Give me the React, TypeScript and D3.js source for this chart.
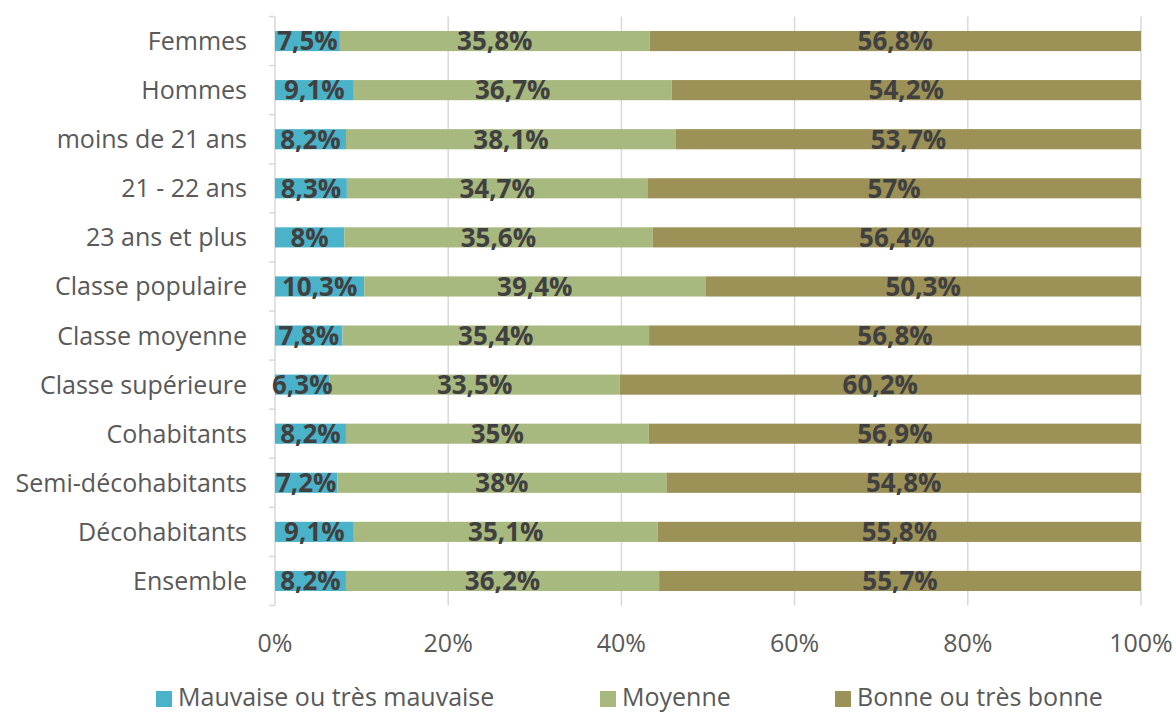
import React from "react";
import * as d3 from "d3";

const categories = [
  "Femmes",
  "Hommes",
  "moins de 21 ans",
  "21 - 22 ans",
  "23 ans et plus",
  "Classe populaire",
  "Classe moyenne",
  "Classe supérieure",
  "Cohabitants",
  "Semi-décohabitants",
  "Décohabitants",
  "Ensemble",
];
const mauvaise = [7.5, 9.1, 8.2, 8.3, 8, 10.3, 7.8, 6.3, 8.2, 7.2, 9.1, 8.2];
const moyenne = [35.8, 36.7, 38.1, 34.7, 35.6, 39.4, 35.4, 33.5, 35, 38, 35.1, 36.2];
const bonne = [56.8, 54.2, 53.7, 57, 56.4, 50.3, 56.8, 60.2, 56.9, 54.8, 55.8, 55.7];
const seriesNames = ["Mauvaise ou très mauvaise", "Moyenne", "Bonne ou très bonne"];
const seriesColors = ["#4bb3c9", "#a8b97f", "#9c9157"];
const xTicks = [0, 0.2, 0.4, 0.6, 0.8, 1];

const W = 1176;
const H = 714;
const left = 275;
const right = 1141;
const top = 16.5;
const bottom = 605.5;
const FONT = "'Open Sans', sans-serif";

export default function App() {
  const rows = categories.map((c, i) => ({ cat: c, s0: mauvaise[i], s1: moyenne[i], s2: bonne[i] }));
  const stack = d3.stack<any>().keys(["s0", "s1", "s2"]).offset(d3.stackOffsetExpand);
  const stacked = stack(rows);
  const raw = [mauvaise, moyenne, bonne];
  const x = d3.scaleLinear().domain([0, 1]).range([left, right]);
  const y = d3.scaleBand().domain(categories).range([top, bottom]).paddingInner(0.59).paddingOuter(0.295);
  const step = y.step();
  const fmt = (v: number) => String(v).replace(".", ",") + "%";
  const legendX = [156, 600, 835];

  return (
    <svg width={W} height={H} style={{ position: "absolute", left: 0, top: 0, background: "#fff" }}>
      <rect x={0} y={0} width={W} height={H} fill="#fff" />
      {xTicks.slice(1).map((t) => (
        <line key={t} x1={x(t)} x2={x(t)} y1={top} y2={bottom} stroke="#d9d9d9" strokeWidth={1.5} />
      ))}
      <line x1={left} x2={left} y1={top} y2={bottom} stroke="#d9d9d9" strokeWidth={1.5} />
      {d3.range(categories.length + 1).map((i) => (
        <line key={i} x1={left - 6} x2={left} y1={top + i * step} y2={top + i * step} stroke="#d9d9d9" strokeWidth={1.5} />
      ))}
      {stacked.map((s, si) =>
        s.map((d, i) => (
          <rect
            key={si + "-" + i}
            x={x(d[0])}
            y={y(categories[i])!}
            width={x(d[1]) - x(d[0])}
            height={y.bandwidth()}
            fill={seriesColors[si]}
          />
        ))
      )}
      {stacked.map((s, si) =>
        s.map((d, i) => (
          <text
            key={"l" + si + "-" + i}
            x={(x(d[0]) + x(d[1])) / 2}
            y={y(categories[i])! + y.bandwidth() / 2}
            dy="0.36em"
            textAnchor="middle"
            fontFamily={FONT}
            fontWeight="bold"
            fontSize={26}
            fill="#404040"
          >
            {fmt(raw[si][i])}
          </text>
        ))
      )}
      {categories.map((c) => (
        <text
          key={c}
          x={247}
          y={y(c)! + y.bandwidth() / 2}
          dy="0.36em"
          textAnchor="end"
          fontFamily={FONT}
          fontSize={25}
          fill="#595959"
        >
          {c}
        </text>
      ))}
      {xTicks.map((t) => (
        <text key={"t" + t} x={x(t)} y={652} textAnchor="middle" fontFamily={FONT} fontSize={25} fill="#595959">
          {Math.round(t * 100) + "%"}
        </text>
      ))}
      {seriesNames.map((n, i) => {
        const lx = legendX[i];
        return (
          <g key={n}>
            <rect x={lx} y={691} width={16} height={16} fill={seriesColors[i]} />
            <text x={lx + 22} y={706} fontFamily={FONT} fontSize={25} fill="#595959">
              {n}
            </text>
          </g>
        );
      })}
    </svg>
  );
}
